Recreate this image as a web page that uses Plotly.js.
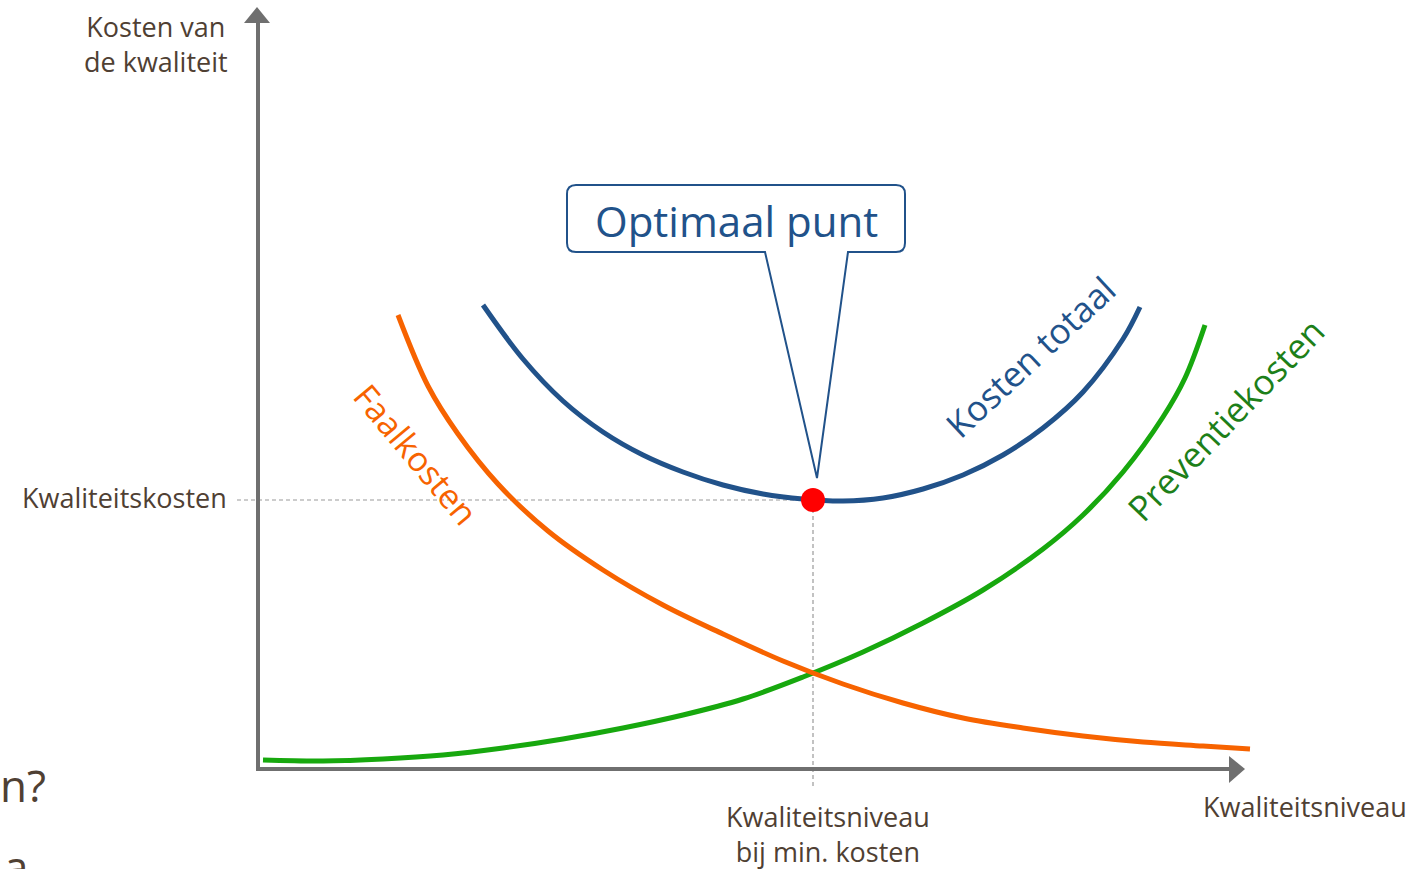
<!DOCTYPE html>
<html>
<head>
<meta charset="utf-8">
<script src="https://cdn.plot.ly/plotly-3.0.1.min.js"></script>
<style>html,body{margin:0;padding:0;background:#fff;}#chart{width:1419px;height:869px;}</style>
</head>
<body>
<div id="chart"></div>
<script>
// Quality level (x) and cost (y) (arbitrary units, origin at the axes corner)
const faalQuality = [140, 170, 200, 240, 290, 345, 405, 465, 525, 585, 645, 705, 765, 825, 885, 945, 992];
const faalCost    = [454, 383, 335, 285, 238, 199, 164, 135, 108, 85, 66, 51, 41, 33, 27, 23, 20];

const preventieQuality = [5, 65, 125, 185, 245, 305, 365, 425, 485, 545, 605, 665, 725, 785, 825, 865, 905, 927, 947];
const preventieCost    = [9, 8, 10, 14, 21, 30, 41, 54, 70, 92, 117, 146, 179, 220, 254, 297, 352, 391, 444];

const totaalQuality = [225, 265, 305, 345, 385, 425, 465, 505, 545, 585, 625, 665, 705, 745, 785, 825, 865, 882];
const totaalCost    = [464, 410, 368, 337, 314, 297, 284, 275, 270, 268, 271, 280, 294, 314, 341, 377, 430, 462];

const optimumQuality = [555];
const optimumCost = [269];

const seriesNames = ['Faalkosten', 'Preventiekosten', 'Kosten totaal'];
const axisTitles = ['Kosten van<br>de kwaliteit', 'Kwaliteitsniveau'];
const tickTexts = ['Kwaliteitskosten', 'Kwaliteitsniveau<br>bij min. kosten'];
const calloutText = 'Optimaal punt';

// Page geometry helpers (page pixels -> data units)
const OX = 258, OY = 769;
const px = x => x - OX;
const py = y => OY - y;
function path(points, close) {
  return points.map((p, i) => (i ? 'L' : 'M') + px(p[0]) + ',' + py(p[1])).join(' ') + (close ? ' Z' : '');
}

const FONT = 'Open Sans, Lato, sans-serif';
const BROWN = '#4f4033';
const ORANGE = '#f76300';
const BLUE = '#21528a';
const GREEN = '#17a80e';
const GREEN_TXT = '#1d7f19';
const AXIS = '#6f6f6f';

const traces = [
  {x: [px(237), optimumQuality[0]], y: [optimumCost[0], optimumCost[0]], mode: 'lines',
   line: {color: '#9a9a9a', width: 1.2, dash: '4px,3px'}, hoverinfo: 'skip'},
  {x: [optimumQuality[0], optimumQuality[0]], y: [py(786), optimumCost[0]], mode: 'lines',
   line: {color: '#9a9a9a', width: 1.2, dash: '4px,3px'}, hoverinfo: 'skip'},
  {name: seriesNames[1], x: preventieQuality, y: preventieCost, mode: 'lines',
   line: {color: GREEN, width: 5, shape: 'spline', smoothing: 1}},
  {name: seriesNames[0], x: faalQuality, y: faalCost, mode: 'lines',
   line: {color: ORANGE, width: 5, shape: 'spline', smoothing: 1}},
  {name: seriesNames[2], x: totaalQuality, y: totaalCost, mode: 'lines',
   line: {color: BLUE, width: 5, shape: 'spline', smoothing: 1}},
  {x: optimumQuality, y: optimumCost, mode: 'markers',
   marker: {color: '#ff0000', size: 24, line: {width: 0}}}
];

// Callout with rounded corners and pointer
function calloutPath() {
  const L = 567, R = 905, T = 185, B = 252, r = 9;
  let s = 'M' + px(L + r) + ',' + py(T);
  s += ' L' + px(R - r) + ',' + py(T);
  s += ' Q' + px(R) + ',' + py(T) + ' ' + px(R) + ',' + py(T + r);
  s += ' L' + px(R) + ',' + py(B - r);
  s += ' Q' + px(R) + ',' + py(B) + ' ' + px(R - r) + ',' + py(B);
  s += ' L' + px(848) + ',' + py(B);
  s += ' L' + px(817) + ',' + py(478);
  s += ' L' + px(765) + ',' + py(B);
  s += ' L' + px(L + r) + ',' + py(B);
  s += ' Q' + px(L) + ',' + py(B) + ' ' + px(L) + ',' + py(B - r);
  s += ' L' + px(L) + ',' + py(T + r);
  s += ' Q' + px(L) + ',' + py(T) + ' ' + px(L + r) + ',' + py(T);
  s += ' Z';
  return s;
}

const shapes = [
  {type: 'path', path: path([[258, 769], [258, 20]]), line: {color: AXIS, width: 4}},
  {type: 'path', path: path([[244, 23], [257, 7], [270, 23]], true), fillcolor: AXIS, line: {color: AXIS, width: 0}},
  {type: 'path', path: path([[256, 769], [1232, 769]]), line: {color: AXIS, width: 4}},
  {type: 'path', path: path([[1229, 756], [1245, 769], [1229, 783]], true), fillcolor: AXIS, line: {color: AXIS, width: 0}},
  {type: 'path', path: calloutPath(), fillcolor: '#ffffff', line: {color: BLUE, width: 2}, layer: 'above'}
];

function ann(text, x, y, size, color, opts) {
  return Object.assign({text: text, x: px(x), y: py(y), xref: 'x', yref: 'y', showarrow: false,
    font: {family: FONT, size: size, color: color}, xanchor: 'center', yanchor: 'middle'}, opts || {});
}

const annotations = [
  ann(axisTitles[0], 156, 44, 27, BROWN, {align: 'center'}),
  ann(axisTitles[1], 1305, 806, 27, BROWN),
  ann(tickTexts[0], 229, 497, 27, BROWN, {xanchor: 'right'}),
  ann(tickTexts[1], 828, 834, 27, BROWN, {align: 'center'}),
  ann(calloutText, 736, 220, 42, BLUE),
  ann(seriesNames[0], 416, 454, 34, ORANGE, {textangle: 50}),
  ann(seriesNames[2], 1030, 356, 35, BLUE, {textangle: -43}),
  ann(seriesNames[1], 1225, 419, 35, GREEN_TXT, {textangle: -46}),
  ann('n?', 48, 785, 44, BROWN, {xanchor: 'right'}),
  ann('a', 16, 866, 44, BROWN)
];

const layout = {
  width: 1419, height: 869,
  margin: {l: 0, r: 0, t: 0, b: 0},
  paper_bgcolor: '#ffffff', plot_bgcolor: '#ffffff',
  showlegend: false,
  xaxis: {range: [px(0), px(1419)], visible: false, fixedrange: true},
  yaxis: {range: [py(869), py(0)], visible: false, fixedrange: true},
  shapes: shapes,
  annotations: annotations
};

Plotly.newPlot('chart', traces, layout, {displayModeBar: false, staticPlot: true});
</script>
</body>
</html>
